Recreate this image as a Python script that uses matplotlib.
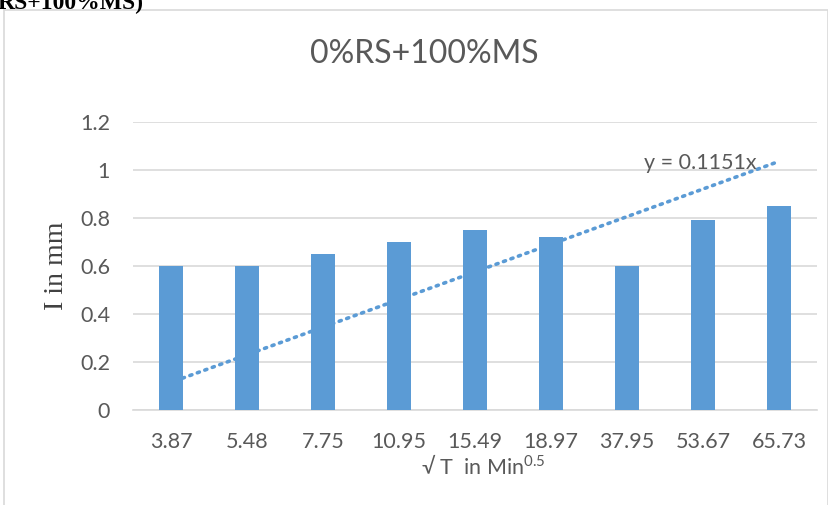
import matplotlib
matplotlib.use("Agg")
import matplotlib.pyplot as plt
import numpy as np
from matplotlib.patches import Rectangle

categories = ["3.87", "5.48", "7.75", "10.95", "15.49", "18.97", "37.95", "53.67", "65.73"]
values = [0.60, 0.60, 0.65, 0.70, 0.75, 0.72, 0.60, 0.79, 0.85]
slope = 0.1151
yticks = [0, 0.2, 0.4, 0.6, 0.8, 1.0, 1.2]
ytick_labels = ["0", "0.2", "0.4", "0.6", "0.8", "1", "1.2"]

plt.rcParams["mathtext.fontset"] = "custom"
plt.rcParams["mathtext.rm"] = "Lato"
plt.rcParams["mathtext.it"] = "Lato:italic"
plt.rcParams["mathtext.bf"] = "Lato:bold"

W, H = 829, 505
fig = plt.figure(figsize=(W/100, H/100), dpi=100)
FONT = ["Lato", "DejaVu Sans"]
GREY = "#595959"

# chart border
fig.patches.append(Rectangle((4/W, -0.01), (W-5)/W, 1 - 10/H + 0.01, transform=fig.transFigure,
                             fill=False, edgecolor="#d9d9d9", linewidth=1.2))
# cut-off heading
fig.text(-2/W, 1 + 7/H, "RS+100%MS)", fontfamily="Liberation Serif", fontweight="bold",
         fontsize=17, color="black", ha="left", va="top")

left, right = 133/W, 817/W
bottom, top = 1 - 410/H, 1 - 122/H
ax = fig.add_axes([left, bottom, right-left, top-bottom])

blue = "#5B9BD5"
x = np.arange(1, len(categories) + 1)
ax.bar(x, values, width=0.31, color=blue, zorder=3)
xt = np.array([x[0] + 0.15, x[-1]], dtype=float)
ax.plot(xt, slope * xt, linestyle=(0, (0.6, 1.6)),
        color=blue, linewidth=2.6, dash_capstyle="round", zorder=4)

ax.set_xlim(0.5, len(categories) + 0.5)
ax.set_ylim(0, 1.2)
ax.set_yticks(yticks)
ax.set_yticklabels(ytick_labels)
ax.set_xticks(x)
ax.set_xticklabels(categories)
ax.yaxis.grid(True, color="#d9d9d9", linewidth=1.2, zorder=0)
for s in ["top", "right", "left"]:
    ax.spines[s].set_visible(False)
ax.spines["bottom"].set_color("#d9d9d9")
ax.spines["bottom"].set_linewidth(1.2)
ax.tick_params(axis="both", length=0, labelsize=15.5, labelcolor=GREY)
ax.tick_params(axis="x", pad=16)
ax.tick_params(axis="y", pad=16.5)
for lab in ax.get_xticklabels() + ax.get_yticklabels():
    lab.set_fontfamily(FONT)

fig.text(424/W, 1 - 54/H, "0%RS+100%MS", ha="center", va="center", fontsize=23,
         color=GREY, family=FONT)
fig.text(57/W, 1 - 266/H, "I in mm", rotation=90, ha="center", va="center", fontsize=20,
         color="#404040", family="Liberation Serif")
fig.text(483/W, 1 - 474/H, "\u221a T  in Min$^{\\mathrm{0.5}}$", ha="center", va="baseline",
         fontsize=15.5, color=GREY, family=FONT)
fig.text(700/W, 1 - 163/H, "y = 0.1151x", ha="center", va="center", fontsize=15.5,
         color=GREY, family=FONT)

fig.savefig("out.png", dpi=100)
